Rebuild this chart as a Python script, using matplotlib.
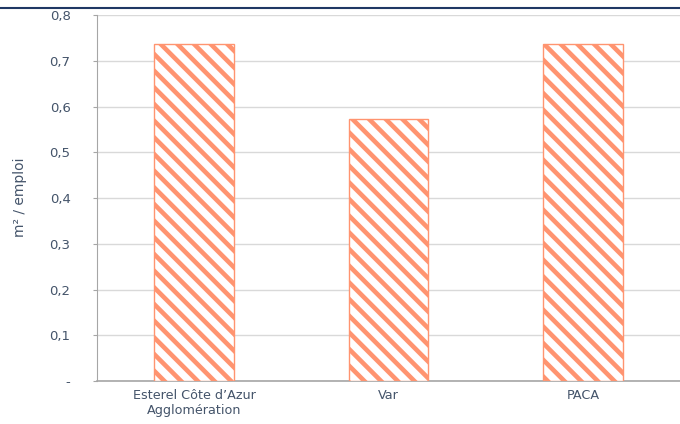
import matplotlib
matplotlib.use("Agg")
import matplotlib.pyplot as plt
from matplotlib.ticker import FixedLocator, FixedFormatter

categories = ["Esterel Côte d’Azur\nAgglomération", "Var", "PACA"]
values = [0.737, 0.573, 0.736]
yticks = [0, 0.1, 0.2, 0.3, 0.4, 0.5, 0.6, 0.7, 0.8]
ytick_labels = ["-", "0,1", "0,2", "0,3", "0,4", "0,5", "0,6", "0,7", "0,8"]
ylabel = "m² / emploi"
title = "2021-2024"

text_color = "#44546A"
bar_color = "#FF9470"

plt.rcParams["font.family"] = ["DejaVu Sans"]
plt.rcParams["hatch.linewidth"] = 3.3
plt.rcParams["hatch.color"] = bar_color

fig = plt.figure(figsize=(6.8, 4.24), dpi=100)
ax = fig.add_axes([97/680, 1 - 381/424, 583/680, 366/424])

x = range(len(categories))
ax.bar(x, values, width=0.41, color="white", edgecolor=bar_color,
       hatch="\\\\", linewidth=1.0, zorder=3)

ax.set_xlim(-0.5, len(categories) - 0.5)
ax.set_ylim(0, 0.8)
ax.yaxis.set_major_locator(FixedLocator(yticks))
ax.yaxis.set_major_formatter(FixedFormatter(ytick_labels))
ax.set_xticks(list(x))
ax.set_xticklabels(categories, fontsize=9.2, color=text_color)
ax.tick_params(axis="x", length=0, pad=6)
ax.tick_params(axis="y", length=3, width=0.8, color="#A6A6A6",
               labelsize=9.5, labelcolor=text_color, pad=16)
ax.set_ylabel(ylabel, fontsize=10, color=text_color)
ax.yaxis.set_label_coords(-70/583, (381 - 197) / 366)

ax.grid(axis="y", color="#D9D9D9", linewidth=1.0, zorder=0)
for side in ["top", "right"]:
    ax.spines[side].set_visible(False)
ax.spines["left"].set_color("#A6A6A6")
ax.spines["left"].set_linewidth(0.8)
ax.spines["bottom"].set_color("#A6A6A6")
ax.spines["bottom"].set_linewidth(1.2)

fig.text(0.0, 1 - 3/424, title, fontsize=11, fontweight="bold",
         color="#1F3864", ha="left", va="bottom")
fig.add_artist(plt.Line2D([0, 1], [1 - 8/424, 1 - 8/424],
                          transform=fig.transFigure, color="#1F3864",
                          linewidth=1.5))

fig.savefig("out.png", dpi=100)
